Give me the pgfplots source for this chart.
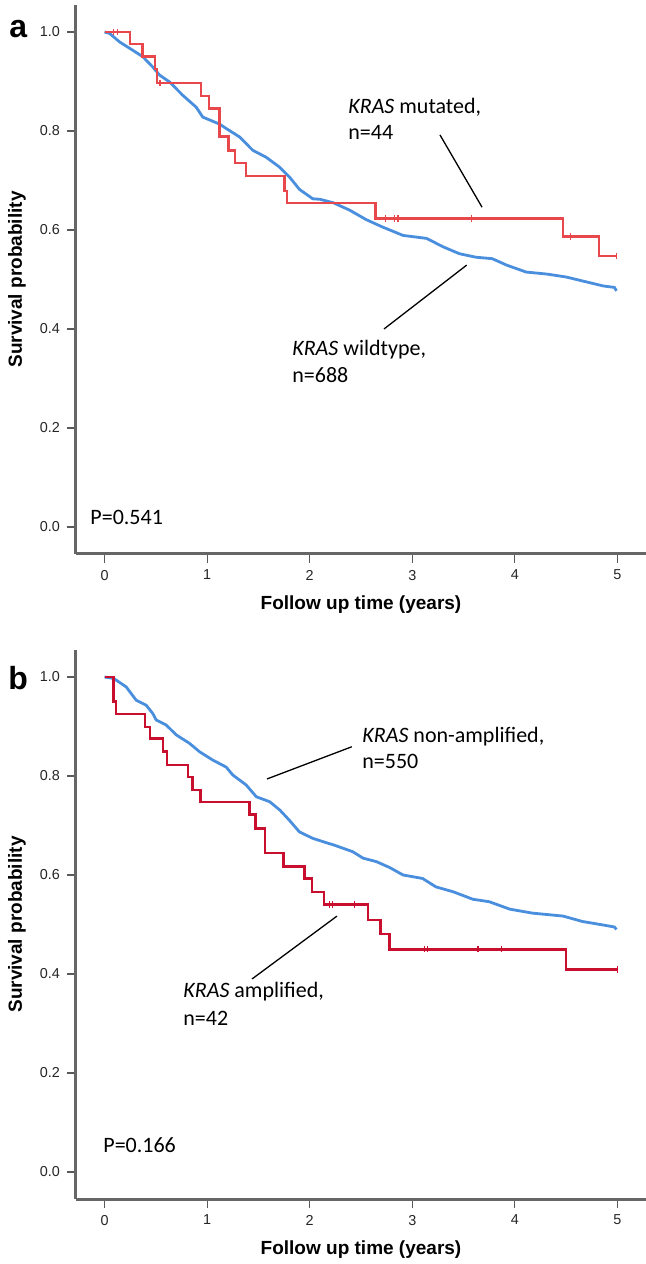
\documentclass[border=0pt]{standalone}
\usepackage{fontspec}
\setmainfont{Liberation Sans}
\newfontfamily\calib{Carlito}
\usepackage{pgfplots}
\pgfplotsset{compat=1.18}
\definecolor{kmblue}{HTML}{4A8FDD}
\definecolor{kmred}{HTML}{E8474C}
\definecolor{kmcrim}{HTML}{C8102E}
\definecolor{axgray}{HTML}{666666}
\pgfplotsset{kmaxis/.style={
  scale only axis, width=285pt, height=274.5pt,
  xmin=-0.278, xmax=5.278, ymin=-0.0545, ymax=1.0545,
  axis x line*=bottom, axis y line*=left,
  axis line style={-, draw=axgray, line width=1.5pt},
  xtick={0,1,2,3,4,5}, ytick={0,0.2,0.4,0.6,0.8,1.0},
  tick align=outside, major tick length=4.5pt,
  every tick/.style={draw=black!65, line width=0.6pt},
  yticklabel style={/pgf/number format/fixed, /pgf/number format/fixed zerofill, /pgf/number format/precision=1},
  /pgf/number format/assume math mode=true,
  tick label style={font=\fontsize{7.2}{8}\selectfont, text=black!85},
  every axis y label/.style={at={(axis description cs:-0.1035,0.5)}, anchor=center, rotate=90, font=\fontsize{9.5}{11}\selectfont\bfseries},
  every axis x label/.style={at={(axis description cs:0.5,-0.093)}, anchor=center, font=\fontsize{9.5}{11}\selectfont\bfseries},
  xlabel={Follow up time (years)}, ylabel={Survival probability},
  clip=false,
}}
\tikzset{ann/.style={anchor=base west, font=\calib\fontsize{11}{12}\selectfont, inner sep=0pt},
  lead/.style={draw=black, line width=0.65pt}}
\begin{document}
\begin{tikzpicture}
\path[use as bounding box] (0,0) rectangle (323pt,632pt);
\node[anchor=base west, inner sep=0pt, font=\fontsize{16}{18}\selectfont\bfseries] at (4.5pt,613pt) {a};
\node[anchor=base west, inner sep=0pt, font=\fontsize{16}{18}\selectfont\bfseries] at (4pt,287pt) {b};
% Panel a
\begin{axis}[kmaxis, at={(38pt,355pt)}, anchor=south west]
\addplot[kmblue, line width=1.4pt] coordinates {
(0,1.0)(0.05,0.997)(0.146,0.980)(0.276,0.963)(0.373,0.950)(0.471,0.929)(0.536,0.913)(0.634,0.899)(0.763,0.872)(0.894,0.848)(0.958,0.828)(1.12,0.814)(1.186,0.805)(1.316,0.788)(1.445,0.761)(1.575,0.747)(1.706,0.727)(1.803,0.707)(1.90,0.682)(2.03,0.663)(2.10,0.662)(2.23,0.655)(2.39,0.640)(2.55,0.621)(2.71,0.606)(2.91,0.589)(3.14,0.583)(3.30,0.566)(3.46,0.552)(3.62,0.545)(3.78,0.542)(3.92,0.529)(4.11,0.515)(4.31,0.511)(4.50,0.505)(4.70,0.495)(4.86,0.487)(4.97,0.484)(4.99,0.477)};
\addplot[kmred, line width=1.25pt, const plot mark left] coordinates {
(0,1.0)(0.25,0.976)(0.37,0.950)(0.49,0.925)(0.51,0.897)(0.94,0.871)(1.02,0.845)(1.12,0.789)(1.21,0.761)(1.27,0.735)(1.38,0.709)(1.755,0.679)(1.78,0.655)(2.64,0.623)(4.47,0.587)(4.82,0.547)(4.99,0.547)};
\addplot[only marks, mark=|, mark size=1.6pt, kmred, mark options={line width=0.6pt}] coordinates {
(0.09,1.0)(0.13,1.0)(0.54,0.897)(2.74,0.623)(2.83,0.623)(2.86,0.623)(3.58,0.623)(4.54,0.587)(4.99,0.547)};
\node[ann] at (axis cs:2.373,0.836) {\textit{KRAS} mutated,};
\node[ann] at (axis cs:2.373,0.782) {n=44};
\draw[lead] (axis cs:3.27,0.792) -- (axis cs:3.68,0.646);
\node[ann] at (axis cs:1.827,0.347) {\textit{KRAS} wildtype,};
\node[ann] at (axis cs:1.827,0.291) {n=688};
\draw[lead] (axis cs:3.53,0.529) -- (axis cs:2.724,0.400);
\node[ann] at (axis cs:-0.141,0.006) {P=0.541};
\end{axis}
% Panel b
\begin{axis}[kmaxis, at={(38pt,32.5pt)}, anchor=south west]
\addplot[kmblue, line width=1.4pt] coordinates {
(0,1.0)(0.09,0.997)(0.211,0.980)(0.309,0.953)(0.406,0.943)(0.471,0.926)(0.504,0.913)(0.601,0.903)(0.699,0.883)(0.828,0.866)(0.926,0.849)(1.056,0.832)(1.186,0.818)(1.25,0.802)(1.38,0.782)(1.48,0.758)(1.61,0.748)(1.71,0.731)(1.80,0.711)(1.90,0.687)(2.03,0.674)(2.18,0.664)(2.23,0.661)(2.42,0.647)(2.52,0.634)(2.65,0.627)(2.78,0.615)(2.91,0.600)(3.10,0.593)(3.23,0.576)(3.40,0.566)(3.59,0.551)(3.75,0.546)(3.95,0.531)(4.17,0.523)(4.47,0.517)(4.66,0.506)(4.86,0.499)(4.97,0.495)(4.99,0.490)};
\addplot[kmcrim, line width=1.25pt, const plot mark left] coordinates {
(0,1.0)(0.088,0.950)(0.114,0.925)(0.397,0.899)(0.445,0.876)(0.569,0.849)(0.607,0.822)(0.812,0.798)(0.86,0.772)(0.936,0.747)(1.413,0.722)(1.47,0.694)(1.566,0.644)(1.745,0.617)(1.95,0.593)(2.02,0.566)(2.14,0.540)(2.57,0.509)(2.69,0.481)(2.78,0.450)(4.50,0.409)(5.0,0.409)};
\addplot[only marks, mark=|, mark size=1.6pt, kmcrim, mark options={line width=0.6pt}] coordinates {
(2.19,0.540)(2.22,0.540)(2.44,0.540)(3.12,0.450)(3.15,0.450)(3.64,0.450)(3.87,0.450)(5.0,0.409)};
\node[ann] at (axis cs:2.51,0.867) {\textit{KRAS} non-amplified,};
\node[ann] at (axis cs:2.51,0.816) {n=550};
\draw[lead] (axis cs:2.41,0.859) -- (axis cs:1.584,0.794);
\node[ann] at (axis cs:0.765,0.352) {\textit{KRAS} amplified,};
\node[ann] at (axis cs:0.765,0.295) {n=42};
\draw[lead] (axis cs:2.266,0.517) -- (axis cs:1.438,0.390);
\node[ann] at (axis cs:-0.015,0.040) {P=0.166};
\end{axis}
\end{tikzpicture}
\end{document}
